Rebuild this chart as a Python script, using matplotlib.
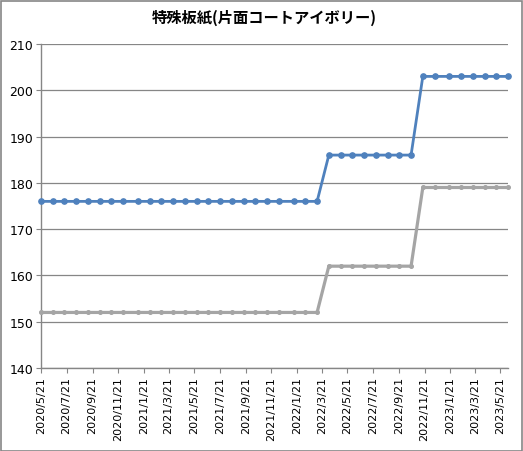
import matplotlib
matplotlib.use("Agg")
import matplotlib.pyplot as plt
import matplotlib.dates as mdates
from matplotlib.patches import Rectangle
import datetime as dt

plt.rcParams['font.family'] = ['Noto Sans CJK JP', 'DejaVu Sans']

### data (4-weekly, 5 weeks across new year) ###
dates = [
    "2020-05-21", "2020-06-18", "2020-07-16", "2020-08-13", "2020-09-10",
    "2020-10-08", "2020-11-05", "2020-12-03", "2021-01-07", "2021-02-04",
    "2021-03-04", "2021-04-01", "2021-04-29", "2021-05-27", "2021-06-24",
    "2021-07-22", "2021-08-19", "2021-09-16", "2021-10-14", "2021-11-11",
    "2021-12-09", "2022-01-13", "2022-02-10", "2022-03-10", "2022-04-07",
    "2022-05-05", "2022-06-02", "2022-06-30", "2022-07-28", "2022-08-25",
    "2022-09-22", "2022-10-20", "2022-11-17", "2022-12-15", "2023-01-19",
    "2023-02-16", "2023-03-16", "2023-04-13", "2023-05-11", "2023-06-08",
]
blue_vals = [176] * 24 + [186] * 8 + [203] * 8
grey_vals = [152] * 24 + [162] * 8 + [179] * 8

tick_dates = [
    "2020-05-21", "2020-07-21", "2020-09-21", "2020-11-21", "2021-01-21",
    "2021-03-21", "2021-05-21", "2021-07-21", "2021-09-21", "2021-11-21",
    "2022-01-21", "2022-03-21", "2022-05-21", "2022-07-21", "2022-09-21",
    "2022-11-21", "2023-01-21", "2023-03-21", "2023-05-21",
]
y_ticks = [140, 150, 160, 170, 180, 190, 200, 210]
title = "特殊板紙(片面コートアイボリー)"

x = [dt.datetime.strptime(d, "%Y-%m-%d") for d in dates]
xt = [dt.datetime.strptime(d, "%Y-%m-%d") for d in tick_dates]
xt_labels = ["%d/%d/%d" % (d.year, d.month, d.day) for d in xt]

W, H = 523, 452
fig = plt.figure(figsize=(W / 100, H / 100), dpi=100)
ax = fig.add_axes([41 / W, 1 - 369 / H, (508 - 41) / W, (369 - 45) / H])

grid_c = '#868686'
ax.plot(x, grey_vals, color='#A5A5A5', lw=2.3, marker='o', ms=2.6,
        solid_capstyle='round', zorder=3, clip_on=False)
ax.plot(x, blue_vals, color='#4F81BD', lw=2.0, marker='o', ms=3.8,
        solid_capstyle='round', zorder=4, clip_on=False)

ax.set_xlim(x[0], x[-1])
ax.set_ylim(140, 210)
ax.set_yticks(y_ticks)
ax.set_xticks(xt)
ax.set_xticklabels(xt_labels, rotation=90, fontsize=8, family='DejaVu Sans')
for lb in ax.get_yticklabels():
    lb.set_fontsize(9)
    lb.set_family('DejaVu Sans')

ax.grid(axis='y', color=grid_c, lw=0.9)
ax.set_axisbelow(True)
for s in ['top', 'right']:
    ax.spines[s].set_visible(False)
for s in ['left', 'bottom']:
    ax.spines[s].set_color(grid_c)
    ax.spines[s].set_linewidth(1.0)
ax.tick_params(direction='out', length=3.5, color=grid_c, pad=2)

fig.text(264 / W, 1 - 18 / H, title, ha='center', va='center',
         fontsize=11, fontweight='bold')

# chart frame
fig.patches.append(Rectangle((0.5 / W, 0.5 / H), 1 - 2 / W, 1 - 2 / H,
                             transform=fig.transFigure, fill=False,
                             edgecolor=grid_c, lw=1.2))

fig.savefig("out.png", dpi=100)
